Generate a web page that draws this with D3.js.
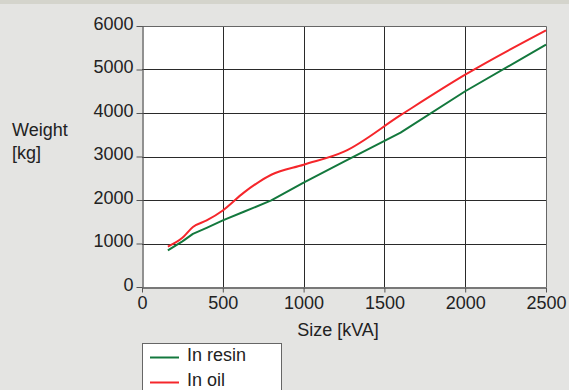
<!DOCTYPE html>
<html>
<head>
<meta charset="utf-8">
<script src="https://cdn.jsdelivr.net/npm/d3@7"></script>
<style>
  html, body { margin: 0; padding: 0; background: #e4e4e2; }
  svg { display: block; }
  text { font-family: "Liberation Sans", Arial, sans-serif; fill: #222; }
</style>
</head>
<body>
<svg id="chart" width="569" height="390"></svg>
<script>
// Transformer rating (kVA) against total weight (kg)
const sizes = [160, 250, 315, 400, 500, 630, 800, 1000, 1250, 1600, 2000, 2500];
const weightResin = [840, 1050, 1220, 1360, 1530, 1730, 1990, 2400, 2880, 3550, 4500, 5570];
const weightOil = [930, 1130, 1380, 1530, 1760, 2170, 2580, 2810, 3110, 3950, 4880, 5900];

const xTicks = [0, 500, 1000, 1500, 2000, 2500];
const yTicks = [0, 1000, 2000, 3000, 4000, 5000, 6000];
const seriesNames = ["In resin", "In oil"];
const xTitle = "Size [kVA]";
const yTitle = ["Weight", "[kg]"];

const colors = { resin: "#13783d", oil: "#f5262b" };

const svg = d3.select("#chart");
const W = 569, H = 390;
const plot = { left: 142, right: 546, top: 26, bottom: 287 };

const x = d3.scaleLinear().domain([0, 2500]).range([plot.left, plot.right]);
const y = d3.scaleLinear().domain([0, 6000]).range([plot.bottom, plot.top]);

// page background and the darker strip along the top edge
svg.append("rect").attr("width", W).attr("height", H).attr("fill", "#e4e4e2");
svg.append("rect").attr("width", W).attr("height", 4).attr("fill", "#d4d4cc");

// plot area
svg.append("rect")
  .attr("x", plot.left).attr("y", plot.top)
  .attr("width", plot.right - plot.left).attr("height", plot.bottom - plot.top)
  .attr("fill", "#fff");

// grid
const grid = svg.append("g").attr("stroke", "#2a2a2a").attr("stroke-width", 1).attr("shape-rendering", "crispEdges");
grid.selectAll("line.v").data(xTicks.slice(1, -1)).join("line")
  .attr("x1", d => Math.round(x(d)) + 0.5).attr("x2", d => Math.round(x(d)) + 0.5)
  .attr("y1", plot.top).attr("y2", plot.bottom);
grid.selectAll("line.h").data(yTicks.slice(1, -1)).join("line")
  .attr("x1", plot.left).attr("x2", plot.right)
  .attr("y1", d => Math.round(y(d)) + 0.5).attr("y2", d => Math.round(y(d)) + 0.5);

// frame: top and right edges
svg.append("path")
  .attr("d", `M${plot.left},${plot.top + 0.5}H${plot.right + 0.5}V${plot.bottom}`)
  .attr("fill", "none").attr("stroke", "#666").attr("stroke-width", 1);

// axes
const xAxis = svg.append("g")
  .attr("transform", `translate(0,${plot.bottom + 0.5})`)
  .call(d3.axisBottom(x).tickValues(xTicks).tickFormat(d3.format("d")).tickSize(5).tickSizeOuter(0).tickPadding(4));
const yAxis = svg.append("g")
  .attr("transform", `translate(${plot.left + 0.5},0)`)
  .call(d3.axisLeft(y).tickValues(yTicks).tickFormat(d3.format("d")).tickSize(6).tickSizeOuter(0).tickPadding(3));

[xAxis, yAxis].forEach(a => {
  a.select(".domain").attr("stroke", "#555").attr("stroke-width", 1.3);
  a.selectAll(".tick line").attr("stroke", "#555");
  a.selectAll(".tick text").attr("font-size", 18).attr("fill", "#222")
    .style("font-family", "'Liberation Sans', Arial, sans-serif");
});
yAxis.selectAll(".tick text").attr("dy", "0.18em");

// axis titles
svg.append("text").attr("x", 338).attr("y", 336).attr("text-anchor", "middle")
  .attr("font-size", 18).text(xTitle);
svg.append("text").attr("font-size", 18)
  .selectAll("tspan").data(yTitle).join("tspan")
  .attr("x", 12).attr("y", (d, i) => 136 + i * 23).text(d => d);

// series
const lineResin = d3.line().x((d, i) => x(sizes[i])).y(d => y(d));
const lineOil = d3.line().x((d, i) => x(sizes[i])).y(d => y(d)).curve(d3.curveMonotoneX);

svg.append("path").datum(weightResin)
  .attr("d", lineResin).attr("fill", "none")
  .attr("stroke", colors.resin).attr("stroke-width", 2).attr("stroke-linejoin", "round");
svg.append("path").datum(weightOil)
  .attr("d", lineOil).attr("fill", "none")
  .attr("stroke", colors.oil).attr("stroke-width", 2).attr("stroke-linejoin", "round");

// legend
const legend = svg.append("g");
legend.append("rect")
  .attr("x", plot.left + 0.5).attr("y", 343.5)
  .attr("width", 139).attr("height", 60)
  .attr("fill", "#fff").attr("stroke", "#666");
const legendColors = [colors.resin, colors.oil];
seriesNames.forEach((name, i) => {
  const base = 361 + i * 25;
  legend.append("line")
    .attr("x1", 150).attr("x2", 179)
    .attr("y1", base - 3.5).attr("y2", base - 3.5)
    .attr("stroke", legendColors[i]).attr("stroke-width", 2);
  legend.append("text").attr("x", 187).attr("y", base)
    .attr("font-size", 18).text(name);
});
</script>
</body>
</html>
